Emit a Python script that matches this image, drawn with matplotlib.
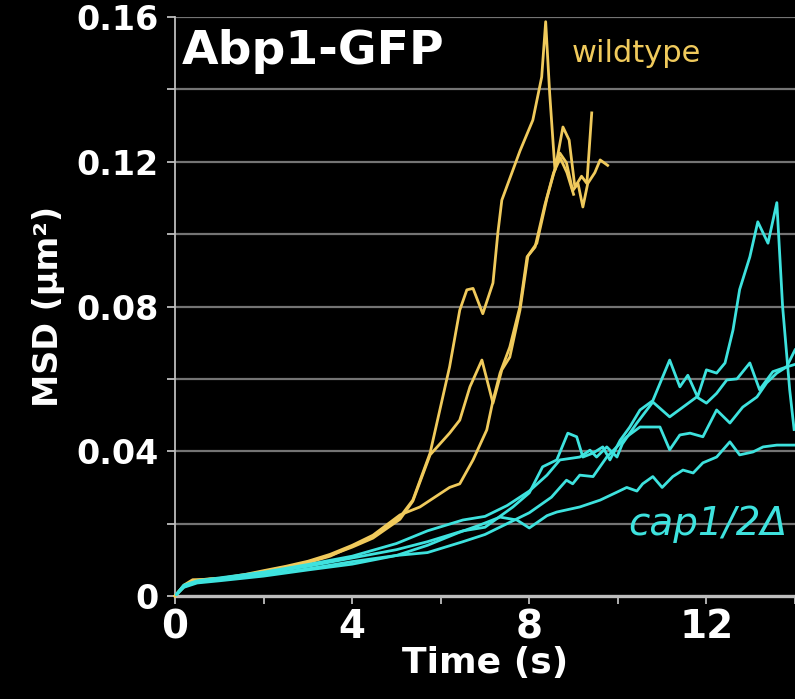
import matplotlib
matplotlib.use("Agg")
import matplotlib.pyplot as plt
from matplotlib.ticker import MultipleLocator

# ---------------- data ----------------
wt_a_t = [0, 0.2, 0.4, 0.8, 1.2, 1.6, 2.0, 2.5, 3.0, 3.5, 4.0, 4.47, 5.08, 5.37, 5.76, 5.98, 6.2, 6.43,
          6.59, 6.73, 6.95, 7.18, 7.29, 7.38, 7.79, 8.08, 8.28, 8.37, 8.46, 8.58, 8.76, 8.9, 9.03, 9.18,
          9.3, 9.41]
wt_a_y = [0, 0.003, 0.0045, 0.0046, 0.005, 0.0058, 0.0068, 0.008, 0.0092, 0.011, 0.0138, 0.0163, 0.0218,
          0.0265, 0.0395, 0.0514, 0.0633, 0.079, 0.0846, 0.085, 0.078, 0.0865, 0.1003, 0.1094, 0.123,
          0.1315, 0.1434, 0.1587, 0.139, 0.1177, 0.1296, 0.126, 0.113, 0.116, 0.114, 0.1335]

wt_b_t = [0, 0.2, 0.4, 0.8, 1.2, 1.6, 2.0, 2.5, 3.0, 3.5, 4.0, 4.47, 5.08, 5.37, 5.76, 6.2, 6.43, 6.66,
          6.93, 7.18, 7.38, 7.56, 7.79, 7.97, 8.17, 8.4, 8.53, 8.69, 8.84, 8.98, 9.1, 9.21, 9.32, 9.48,
          9.6, 9.77]
wt_b_y = [0, 0.0028, 0.0042, 0.0048, 0.0049, 0.0057, 0.0066, 0.0078, 0.0094, 0.0112, 0.0135, 0.0160,
          0.0212, 0.0262, 0.0390, 0.045, 0.0486, 0.0578, 0.0652, 0.0533, 0.0625, 0.066, 0.079, 0.094,
          0.0975, 0.110, 0.1158, 0.1224, 0.1197, 0.112, 0.114, 0.1075, 0.114, 0.117, 0.1205, 0.119]

wt_c_t = [0, 0.2, 0.4, 0.8, 1.2, 1.6, 2.0, 2.5, 3.0, 3.5, 4.0, 4.47, 5.08, 5.53, 6.2, 6.43, 6.73, 7.04,
          7.18, 7.34, 7.56, 7.79, 7.95, 8.13, 8.35, 8.55, 8.7, 8.85, 9.0]
wt_c_y = [0, 0.0025, 0.004, 0.0045, 0.0052, 0.006, 0.007, 0.0082, 0.0096, 0.0115, 0.014, 0.0168, 0.0224,
          0.0246, 0.030, 0.031, 0.0376, 0.0459, 0.054, 0.0616, 0.0688, 0.080, 0.0937, 0.0964, 0.108,
          0.117, 0.121, 0.117, 0.111]

cap_p_t = [0, 0.2, 0.5, 1.0, 2.0, 3.0, 4.0, 5.0, 5.7, 6.5, 7.0, 7.63, 8.0, 8.3, 8.62, 8.87, 9.07, 9.21,
           9.44, 9.66, 9.82, 10.05, 10.27, 10.5, 10.79, 11.17, 11.4, 11.58, 11.8, 12.0, 12.23, 12.42,
           12.6, 12.75, 12.98, 13.16, 13.39, 13.59, 13.72, 13.88, 13.98]
cap_p_y = [0, 0.0028, 0.004, 0.0047, 0.0063, 0.0082, 0.0105, 0.0128, 0.015, 0.018, 0.019, 0.0246, 0.0285,
           0.0357, 0.0376, 0.045, 0.044, 0.0384, 0.0395, 0.0412, 0.0376, 0.043, 0.0467, 0.0514, 0.054,
           0.0652, 0.0578, 0.061, 0.055, 0.0625, 0.0616, 0.0644, 0.0735, 0.0847, 0.0937, 0.1034, 0.0975,
           0.1087, 0.080, 0.057, 0.046]

cap_q_t = [0, 0.2, 0.5, 1.0, 2.0, 3.0, 4.0, 5.0, 5.7, 6.5, 7.0, 7.5, 8.0, 8.4, 8.69, 9.14, 9.37, 9.52,
           9.75, 9.98, 10.1, 10.43, 10.79, 11.17, 11.47, 11.78, 12.0, 12.23, 12.46, 12.69, 12.98, 13.2,
           13.5, 13.81, 14.0]
cap_q_y = [0, 0.003, 0.0042, 0.005, 0.0066, 0.0087, 0.011, 0.0145, 0.018, 0.021, 0.022, 0.025, 0.029,
           0.0334, 0.0376, 0.0384, 0.0403, 0.0384, 0.0412, 0.0384, 0.042, 0.0478, 0.0536, 0.0495, 0.0522,
           0.055, 0.0533, 0.056, 0.0597, 0.060, 0.0644, 0.057, 0.062, 0.0633, 0.064]

cap_r_t = [0, 0.2, 0.5, 1.0, 2.0, 3.0, 4.0, 5.0, 5.7, 6.5, 7.0, 7.5, 8.0, 8.5, 8.84, 8.98, 9.14, 9.44,
           9.75, 10.2, 10.5, 10.95, 11.17, 11.4, 11.63, 11.92, 12.23, 12.53, 12.82, 13.14, 13.36, 13.59,
           13.81, 14.0]
cap_r_y = [0, 0.0026, 0.0038, 0.0045, 0.0058, 0.0075, 0.0095, 0.0112, 0.012, 0.015, 0.017, 0.020, 0.023,
           0.0273, 0.032, 0.031, 0.0334, 0.033, 0.0384, 0.044, 0.0467, 0.0467, 0.0404, 0.0445, 0.045,
           0.044, 0.0514, 0.0478, 0.0522, 0.055, 0.0589, 0.0616, 0.0633, 0.068]

cap_s_t = [0, 0.2, 0.5, 1.0, 2.0, 3.0, 4.0, 5.0, 5.7, 6.4, 6.88, 7.34, 7.72, 8.0, 8.4, 8.62, 9.14, 9.6,
           9.98, 10.2, 10.43, 10.56, 10.79, 11.0, 11.24, 11.47, 11.7, 11.92, 12.23, 12.53, 12.75, 13.05,
           13.28, 13.59, 14.0]
cap_s_y = [0, 0.0024, 0.0036, 0.0042, 0.0055, 0.0072, 0.0088, 0.0112, 0.014, 0.0175, 0.0196, 0.0218,
           0.021, 0.0188, 0.0222, 0.0232, 0.0246, 0.0265, 0.0287, 0.030, 0.029, 0.031, 0.033, 0.030,
           0.033, 0.0348, 0.034, 0.0368, 0.0384, 0.0426, 0.039, 0.0398, 0.0412, 0.0417, 0.0417]

y_major = [0, 0.04, 0.08, 0.12, 0.16]
y_labels = ["0", "0.04", "0.08", "0.12", "0.16"]
x_major = [0, 4, 8, 12]
x_labels = ["0", "4", "8", "12"]

# ---------------- styling ----------------
YEL = "#F0CA5C"
CYN = "#3EE2DE"
plt.rcParams['font.family'] = ["DejaVu Sans"]

fig = plt.figure(figsize=(7.95, 6.99), dpi=100, facecolor="black")
ax = fig.add_axes([175/795, 1 - 596/699, 1 - 175/795, (596 - 17)/699])
ax.set_facecolor("black")

ax.set_xlim(0, 14)
ax.set_ylim(0, 0.16)

for v in [0.02, 0.04, 0.06, 0.08, 0.10, 0.12, 0.14, 0.16]:
    ax.axhline(v, color="#747474", lw=1.6, zorder=1)

for t, y in [(wt_a_t, wt_a_y), (wt_b_t, wt_b_y), (wt_c_t, wt_c_y)]:
    ax.plot(t, y, color=YEL, lw=2.0, zorder=3, clip_on=False)
for t, y in [(cap_s_t, cap_s_y), (cap_r_t, cap_r_y), (cap_q_t, cap_q_y), (cap_p_t, cap_p_y)]:
    ax.plot(t, y, color=CYN, lw=2.0, zorder=4, clip_on=True)

for s in ["top", "right"]:
    ax.spines[s].set_visible(False)
ax.spines["left"].set_color("#bdbdbd")
ax.spines["left"].set_linewidth(1.3)
ax.spines["bottom"].set_color("#bdbdbd")
ax.spines["bottom"].set_linewidth(2.4)

ax.set_yticks(y_major)
ax.set_yticklabels(y_labels)
ax.yaxis.set_minor_locator(MultipleLocator(0.02))
ax.set_xticks(x_major)
ax.set_xticklabels(x_labels)
ax.xaxis.set_minor_locator(MultipleLocator(2))
ax.tick_params(axis="both", which="both", colors="#bdbdbd", direction="out", width=1.3)
ax.tick_params(axis="y", which="both", length=6, pad=6)
ax.tick_params(axis="x", which="both", length=6, pad=3)
for lab in ax.get_yticklabels():
    lab.set_color("white")
    lab.set_fontsize(24)
    lab.set_fontweight("bold")
for lab in ax.get_xticklabels():
    lab.set_color("white")
    lab.set_fontsize(28)
    lab.set_fontweight("bold")

ax.set_xlabel("Time (s)", color="white", fontsize=26, fontweight="bold", labelpad=0)
ax.set_ylabel("MSD (μm²)", color="white", fontsize=24, fontweight="bold", labelpad=8)

ax.text(0.16, 0.1505, "Abp1-GFP", color="white", fontsize=34, fontweight="bold", va="center", ha="left")
ax.text(8.96, 0.1500, "wildtype", color=YEL, fontsize=22, va="center", ha="left")
ax.text(10.23, 0.0200, "cap1/2Δ", color=CYN, fontsize=28, style="italic", va="center", ha="left")

fig.savefig("out.png", dpi=100, facecolor="black")
